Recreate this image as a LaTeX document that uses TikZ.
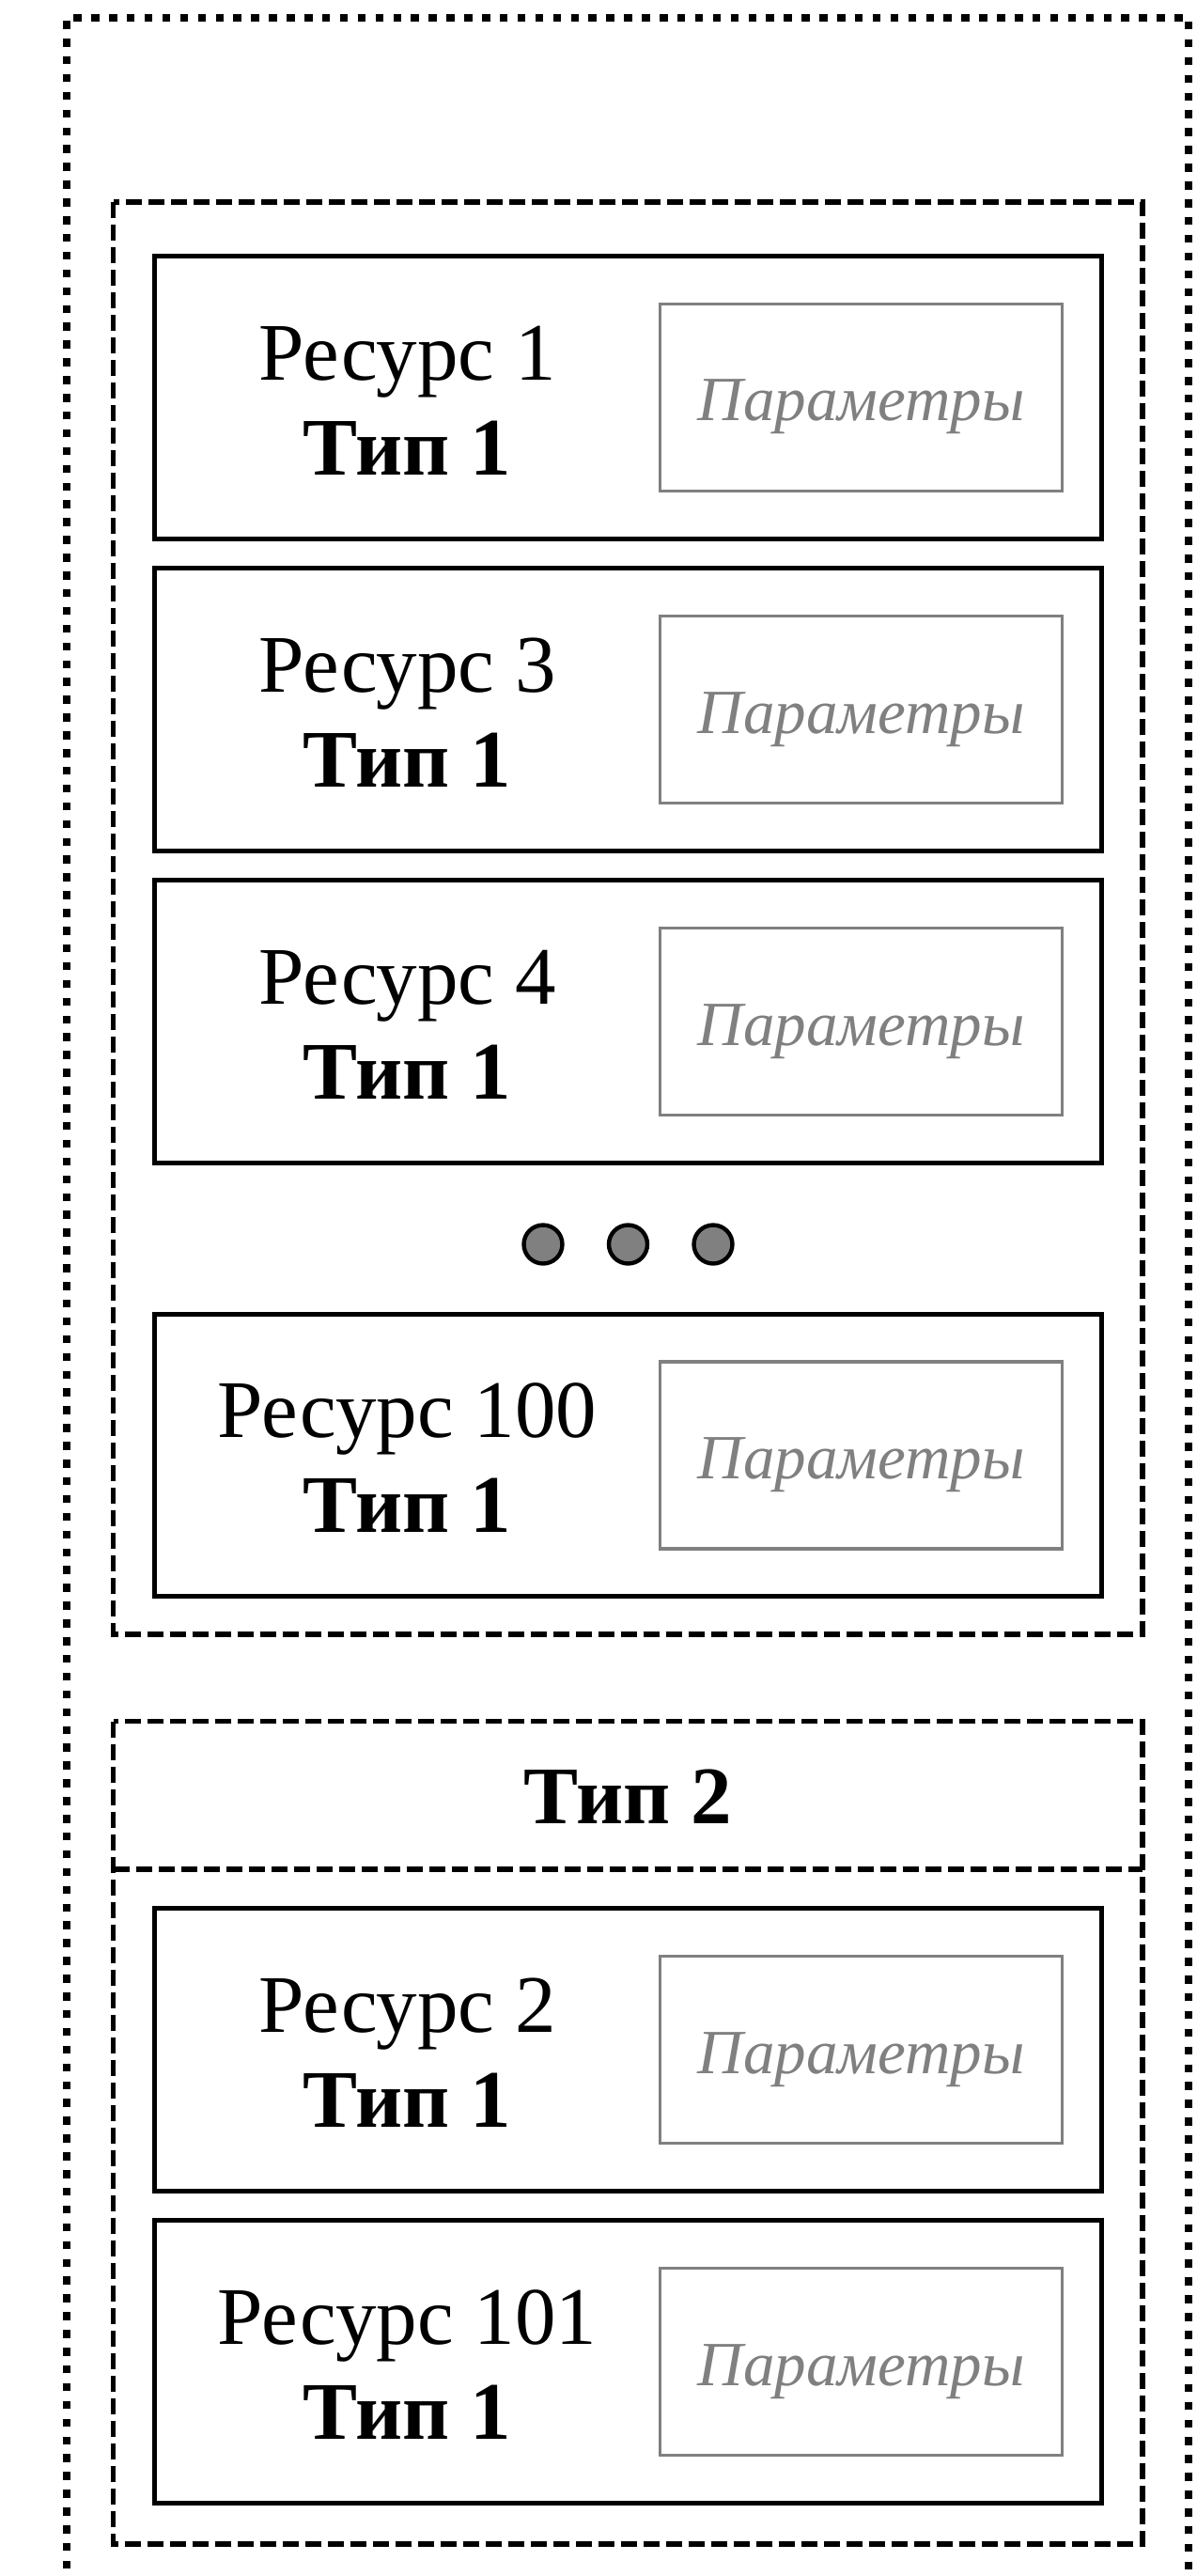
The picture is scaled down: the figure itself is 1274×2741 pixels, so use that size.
\documentclass[tikz,border=0pt]{standalone}
\usepackage{fontspec}
\setmainfont{Liberation Serif}

\begin{document}
\begin{tikzpicture}[x=0.5pt,y=-0.5pt]
        \tikzstyle{every node}=[inner sep=0pt]
        \tikzstyle{res}=[draw,line width=2.4pt,minimum width=504pt,minimum height=150.3pt]
        \tikzstyle{par}=[draw=gray,line width=1.7pt,minimum width=214.1pt,minimum height=99.6pt,text=gray,text height=28pt,text depth=3pt,font=\fontsize{33.5}{38}\selectfont\itshape]
        \tikzstyle{lbl}=[align=center,font=\fontsize{43.5}{50.5}\selectfont]
        \tikzstyle{dot}=[circle,draw,fill=gray,line width=2.2pt,minimum size=20.5pt]
        \tikzstyle{group}=[line width=2.8pt,dash pattern=on 8.5pt off 3.5pt]
        \tikzstyle{frame}=[line width=4.25pt,dash pattern=on 4.25pt off 5.2pt]
        \useasboundingbox (0,0) rectangle (1274,2741);
        % outer frame, runs on past the bottom
        \draw[frame] (71,2790) -- (71,19) -- (1265,19) -- (1265,2790);
        % first group
        \draw[group] (120.6,215) rectangle (1216,1739);
        \node[res] (r1) at (668.5,422.9) {};
        \node[lbl] (t1) at (433.4,426) {Ресурс 1\\\textbf{Тип 1}};
        \node[par] (p1) at (916.6,422.9) {Параметры};
        \node[res] (r3) at (668.5,755) {};
        \node[lbl] (t3) at (433.4,758) {Ресурс 3\\\textbf{Тип 1}};
        \node[par] (p3) at (916.6,755) {Параметры};
        \node[res] (r4) at (668.5,1087) {};
        \node[lbl] (t4) at (433.4,1090) {Ресурс 4\\\textbf{Тип 1}};
        \node[par] (p4) at (916.6,1087) {Параметры};
        \node[dot] (d1) at (578,1324) {};
        \node[dot] (d2) at (668.5,1324) {};
        \node[dot] (d3) at (759,1324) {};
        \node[res] (r100) at (668.5,1548.4) {};
        \node[lbl] (t100) at (433.4,1551.5) {Ресурс 100\\\textbf{Тип 1}};
        \node[par] (p100) at (916.6,1548.4) {Параметры};
        % second group
        \draw[group] (120.6,1831.5) rectangle (1216,2707);
        \draw[group] (120.6,1988.8) -- (1216,1988.8);
        \node[lbl] (typ2) at (668.3,1912) {\textbf{Тип 2}};
        \node[res] (r2) at (668.5,2181) {};
        \node[lbl] (t2) at (433.4,2184) {Ресурс 2\\\textbf{Тип 1}};
        \node[par] (p2) at (916.6,2181) {Параметры};
        \node[res] (r101) at (668.5,2513) {};
        \node[lbl] (t101) at (433.4,2516) {Ресурс 101\\\textbf{Тип 1}};
        \node[par] (p101) at (916.6,2513) {Параметры};
    \end{tikzpicture}
\end{document}
